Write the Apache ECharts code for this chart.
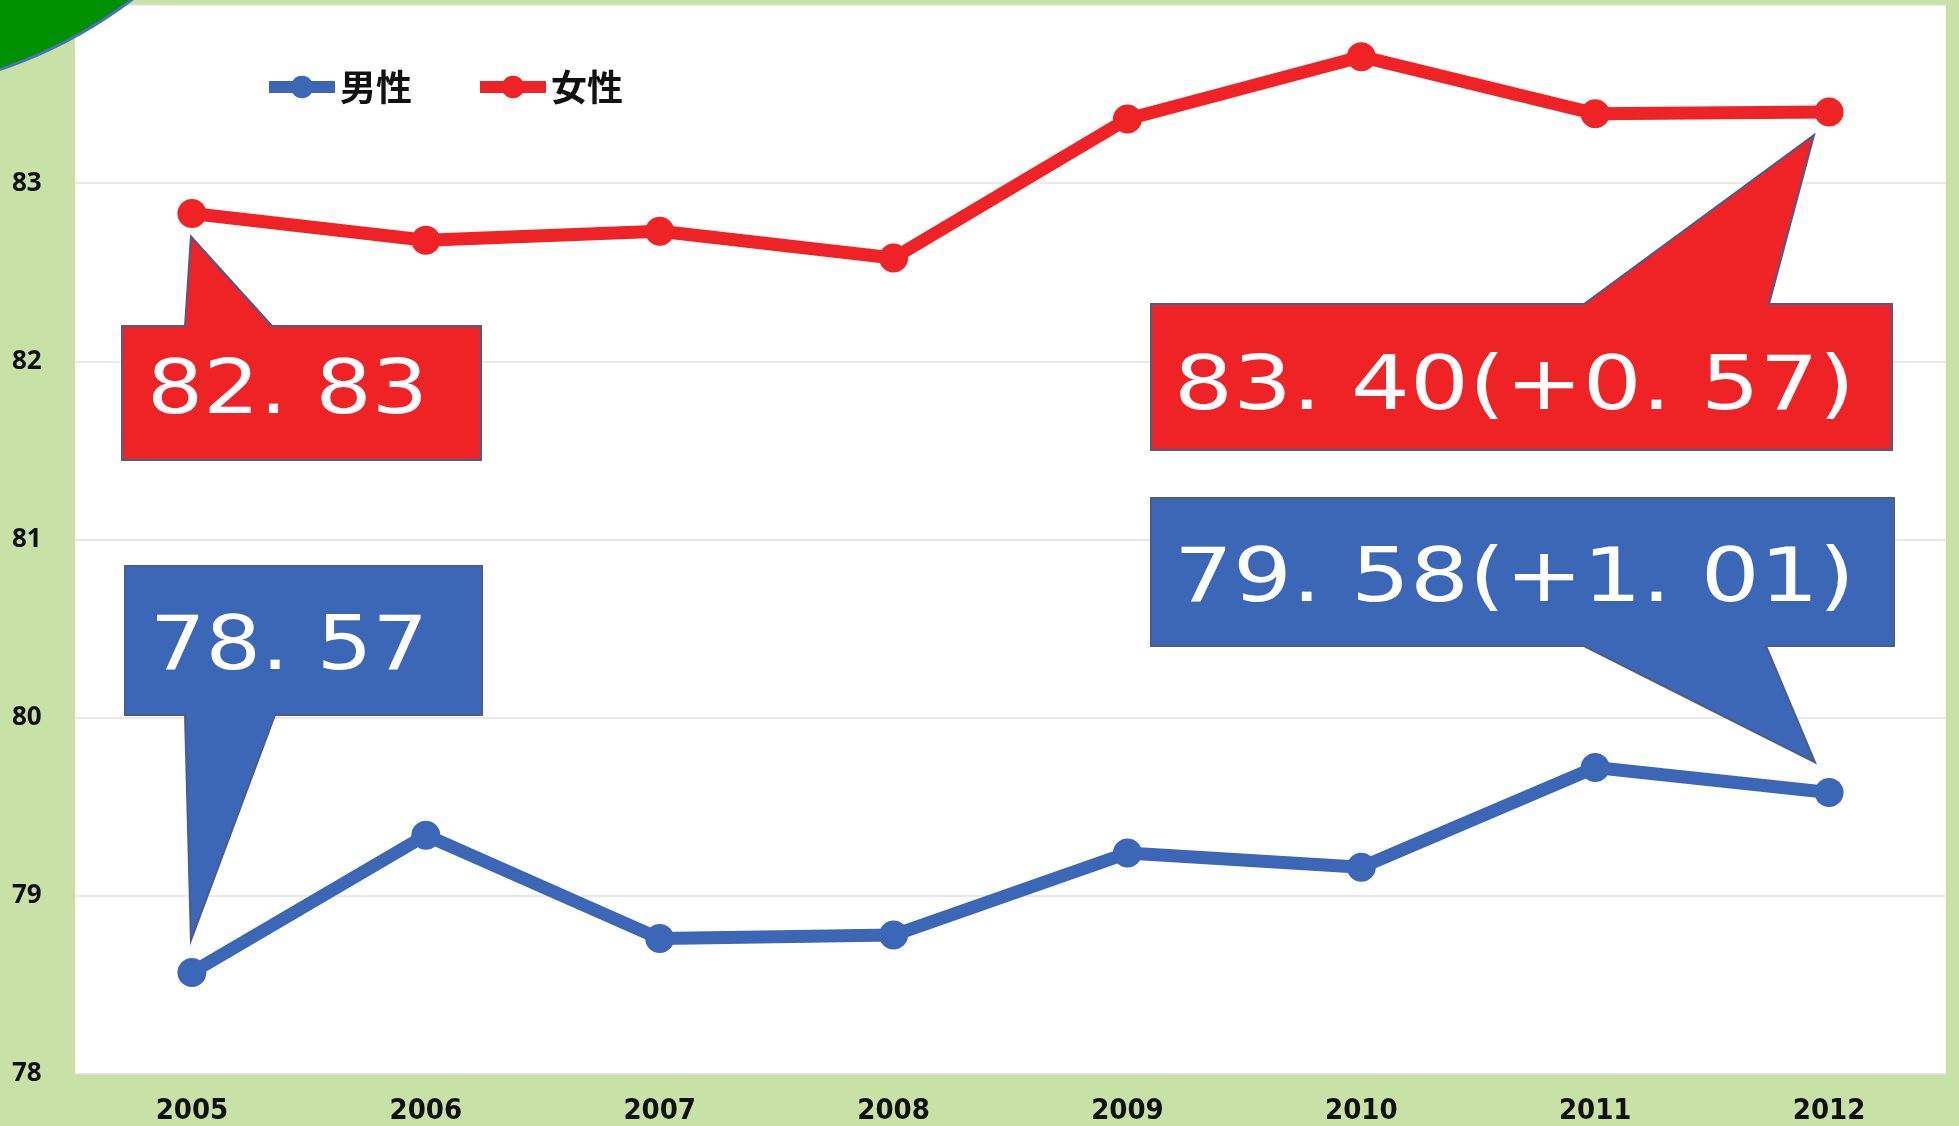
<!DOCTYPE html>
<html>
<head>
<meta charset="utf-8">
<script src="https://cdn.jsdelivr.net/npm/echarts@6/dist/echarts.min.js"></script>
<style>
    html, body { margin: 0; padding: 0; background: #c8e1a6; }
    #main { width: 1959px; height: 1126px; }
</style>
</head>
<body>
<div id="main"></div>
<script>
let years = ['2005', '2006', '2007', '2008', '2009', '2010', '2011', '2012']
let male = [78.57, 79.34, 78.76, 78.78, 79.24, 79.16, 79.72, 79.58]
let female = [82.83, 82.68, 82.73, 82.58, 83.36, 83.71, 83.39, 83.40]
let seriesNames = ['男性', '女性']
let calloutLabels = ['82. 83', '78. 57', '83. 40(+0. 57)', '79. 58(+1. 01)']

let BLUE = '#3c67b6'
let RED = '#ef2226'
let TEXT_FONT = "normal 74px 'DejaVu Sans'"

let chart = echarts.init(document.getElementById('main'))

let option = {
    animation: false,
    backgroundColor: '#c8e1a6',
    grid: {
        left: 75, right: 13, top: 5, bottom: 51,
        show: true, backgroundColor: '#ffffff', borderWidth: 0
    },
    legend: {
        data: seriesNames,
        left: 258, top: 64,
        itemWidth: 66, itemHeight: 28, itemGap: 62,
        lineStyle: { width: 12 },
        textStyle: { fontSize: 36, fontWeight: 'bold', color: '#111', fontFamily: 'Noto Sans CJK JP' }
    },
    xAxis: {
        type: 'category',
        data: years,
        axisLine: { show: false },
        axisTick: { show: false },
        axisLabel: {
            margin: 23, fontSize: 29, fontWeight: 'bold', color: '#111',
            fontFamily: "'DejaVu Sans Condensed', sans-serif"
        }
    },
    yAxis: {
        type: 'value',
        min: 78, max: 84, interval: 1,
        axisLine: { show: false },
        axisTick: { show: false },
        splitLine: { lineStyle: { color: '#e2e2e2', width: 1.5 } },
        axisLabel: {
            align: 'left', margin: 63, fontSize: 26, fontWeight: 'bold', color: '#111',
            fontFamily: "'Open Sans', sans-serif",
            formatter: function (v) {
                return v > 83 ? '' : String(v)
            }
        }
    },
    series: [{
        name: seriesNames[0],
        type: 'line',
        data: male,
        symbol: 'circle', symbolSize: 29,
        color: BLUE,
        lineStyle: { width: 13, color: BLUE },
        itemStyle: { color: BLUE }
    }, {
        name: seriesNames[1],
        type: 'line',
        data: female,
        symbol: 'circle', symbolSize: 29,
        color: RED,
        lineStyle: { width: 13, color: RED },
        itemStyle: { color: RED }
    }]
}
chart.setOption(option)

// callout layout: box [left, top, right, bottom], pointer base x pair, tip offset from point
let callouts = [
    { series: 1, data: female, index: 0, text: calloutLabels[0], fill: RED, box: [122, 326, 481, 460], base: [185, 272], side: 'top', dx: -1, dy: 23, textX: 147, textY: 394, textW: 281 },
    { series: 0, data: male, index: 0, text: calloutLabels[1], fill: BLUE, box: [125, 566, 482, 715], base: [185, 275], side: 'bottom', dx: -1, dy: -32, textX: 150, textY: 650, textW: 278 },
    { series: 1, data: female, index: 7, text: calloutLabels[2], fill: RED, box: [1151, 304, 1892, 450], base: [1584, 1769], side: 'top', dx: -15, dy: 23, textX: 1174, textY: 390, textW: 681 },
    { series: 0, data: male, index: 7, text: calloutLabels[3], fill: BLUE, box: [1151, 498, 1894, 646], base: [1584, 1766], side: 'bottom', dx: -14, dy: -30, textX: 1174, textY: 582, textW: 681 }
]

let measure = document.createElement('canvas').getContext('2d')
measure.font = TEXT_FONT

let graphics = [{
    type: 'circle',
    shape: { cx: -149, cy: -371, r: 465 },
    style: { fill: '#009100', stroke: '#4a72b8', lineWidth: 3 },
    z: 100
}]

callouts.forEach(function (c) {
    let L = c.box[0], T = c.box[1], R = c.box[2], B = c.box[3]
    let p = chart.convertToPixel({ seriesIndex: c.series }, [c.index, c.data[c.index]])
    let tip = [p[0] + c.dx, p[1] + c.dy]
    let pts = c.side === 'top'
        ? [[L, T], [c.base[0], T], tip, [c.base[1], T], [R, T], [R, B], [L, B]]
        : [[L, T], [R, T], [R, B], [c.base[1], B], tip, [c.base[0], B], [L, B]]
    graphics.push({
        type: 'polygon',
        shape: { points: pts },
        style: { fill: c.fill, stroke: '#4a5d8c', lineWidth: 2 },
        z: 50
    })
    let w = measure.measureText(c.text).width
    graphics.push({
        type: 'text',
        x: c.textX, y: c.textY,
        scaleX: c.textW / w,
        style: {
            text: c.text, fill: '#ffffff', font: TEXT_FONT,
            textAlign: 'left', verticalAlign: 'middle', textVerticalAlign: 'middle'
        },
        z: 51
    })
})

chart.setOption({ graphic: graphics })
</script>
</body>
</html>
